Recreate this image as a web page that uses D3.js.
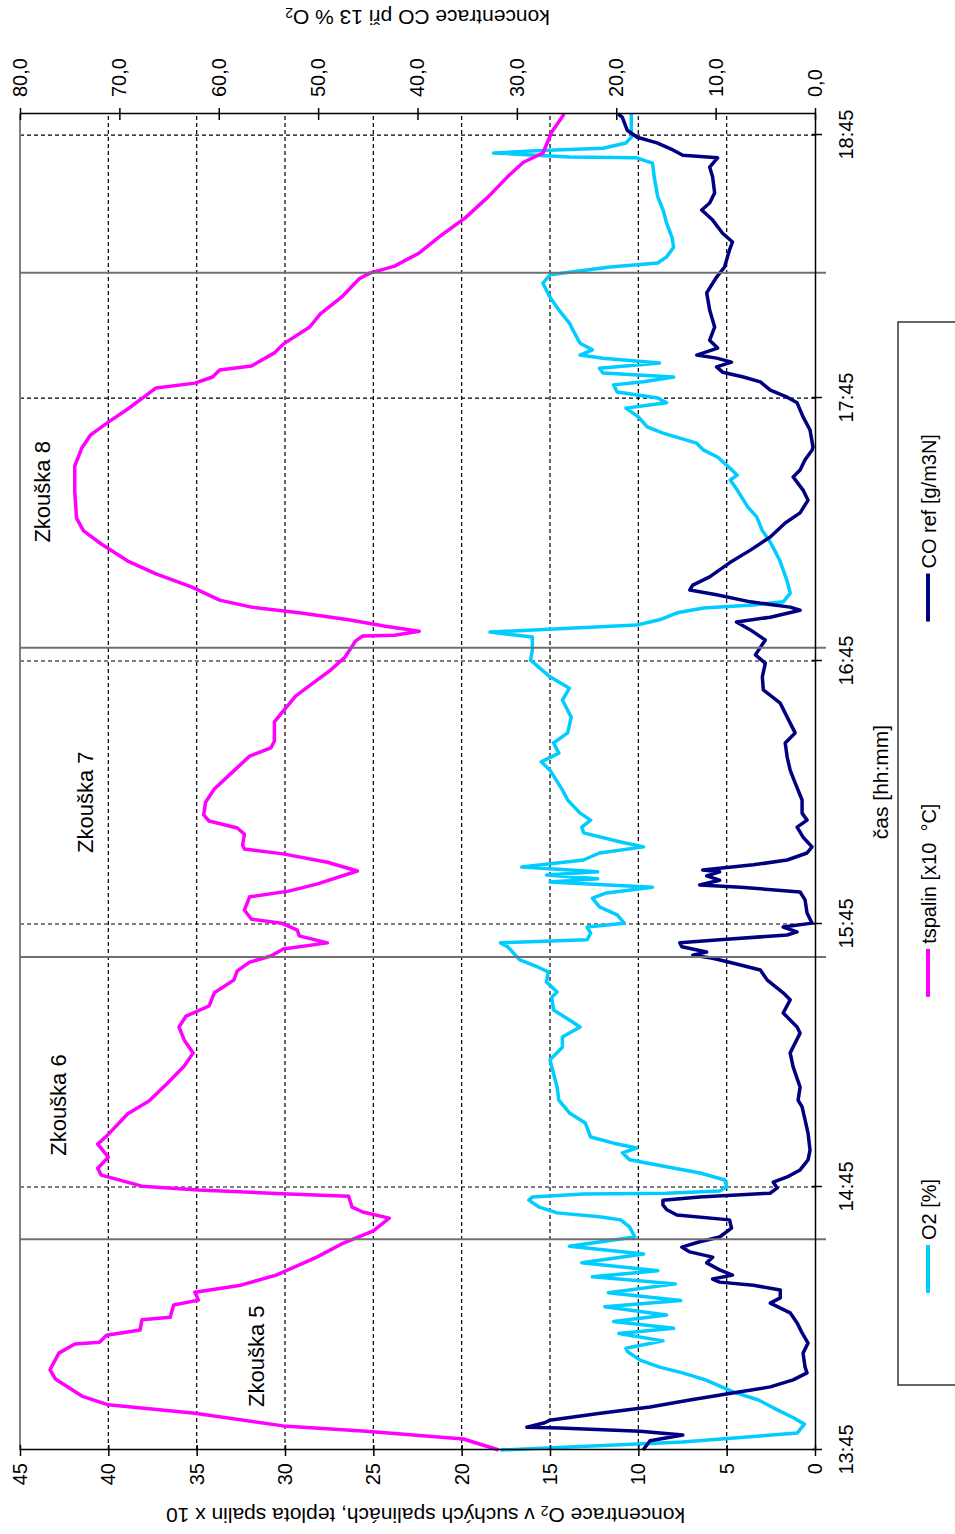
<!DOCTYPE html>
<html>
<head>
<meta charset="utf-8">
<script src="https://cdn.jsdelivr.net/npm/d3@7/dist/d3.min.js"></script>
<style>
  body { margin: 0; background: #fff; }
  svg text { font-family: "Liberation Sans", Arial, sans-serif; }
</style>
</head>
<body>
<div id="chart"></div>
<script>
// time is minutes after 13:45
const o2 = [[0,17.8],[1.8,7.5],[3.2,3.1],[3.9,1.0],[5.9,0.6],[7.3,1.2],[9.1,2.1],[11.4,3.2],[13.2,4.6],[16.0,6.2],[17.6,7.5],[18.9,8.8],[20.5,9.9],[22.4,10.6],[23.2,10.7],[24.9,8.6],[26.6,11.1],[27.8,8.0],[29.3,11.4],[30.8,8.4],[32.7,11.9],[34.1,7.6],[35.9,11.7],[37.9,7.9],[39.5,12.6],[40.9,8.9],[42.7,13.2],[44.7,9.7],[46.5,13.9],[48.6,10.2],[50.9,10.5],[52.5,11.0],[53.2,12.2],[54.1,14.6],[55.4,15.6],[57.0,16.2],[57.7,16.0],[58.4,13.1],[58.6,8.4],[59.1,5.4],[60.0,5.0],[61.6,5.1],[63.2,6.5],[64.6,8.4],[66.2,10.5],[67.8,10.9],[68.9,10.1],[70.0,11.4],[71.4,12.7],[74.6,13.0],[76.9,13.9],[79.8,14.5],[82.8,14.6],[89.0,15.0],[91.9,14.3],[94.2,14.3],[96.5,13.3],[98.1,13.9],[100.4,14.8],[103.3,14.9],[104.5,14.6],[106.8,15.2],[109.1,15.1],[110.2,15.7],[111.8,16.7],[114.8,17.4],[115.7,17.8],[116.4,12.9],[117.9,12.7],[119.3,12.9],[120.2,10.8],[122.1,11.2],[123.9,12.2],[125.9,12.6],[127.1,11.8],[128.4,9.2],[129.6,15.0],[130.3,12.3],[131.2,15.2],[131.9,12.3],[133.0,16.6],[134.6,13.1],[136.2,12.2],[137.6,9.7],[138.7,11.0],[140.8,13.1],[142.1,13.2],[143.7,12.7],[145.3,13.3],[148.3,14.0],[150.6,14.3],[155.1,15.0],[157.0,15.5],[159.0,14.5],[161.3,14.8],[163.6,14.0],[167.2,13.8],[171.1,14.3],[173.8,13.9],[176.4,15.0],[180.2,16.1],[182.5,16.0],[185.5,16.0],[186.6,18.4],[187.5,13.9],[188.2,10.1],[189.4,8.8],[191.0,7.8],[192.1,6.3],[192.8,3.5],[193.5,1.8],[195.5,1.4],[198.5,1.6],[203.0,2.0],[206.9,2.5],[209.9,3.0],[212.9,3.3],[215.1,3.8],[219.0,4.4],[221.3,4.8],[222.4,4.4],[224.3,4.9],[226.5,5.5],[228.1,6.3],[229.7,6.7],[232.0,8.6],[233.4,9.5],[235.7,10.0],[237.7,10.7],[238.9,8.4],[240.0,8.9],[241.4,11.2],[243.0,11.4],[243.7,9.7],[244.8,8.0],[245.7,12.0],[246.8,12.2],[248.0,8.8],[249.1,12.0],[249.8,13.3],[251.0,12.6],[252.5,13.3],[255.5,13.7],[257.1,13.9],[260.1,14.5],[263.0,15.0],[266.2,15.4],[268.1,15.0],[268.7,13.9],[269.9,11.6],[270.8,8.9],[272.2,8.4],[274.4,8.0],[276.7,8.1],[279.9,8.4],[282.9,8.6],[285.9,8.9],[290.4,9.1],[293.6,9.2],[294.8,10.1],[295.0,13.9],[295.9,18.2],[296.4,15.8],[297.0,12.0],[298.2,10.7],[299.5,10.4],[304.8,10.4]];

const tspalin = [[0,17.9],[2.5,19.9],[4.3,25.4],[5.5,30.1],[8.4,35.1],[10.3,40.0],[12.3,41.5],[16.2,43.0],[18.3,43.3],[22.1,42.8],[24.2,41.9],[24.6,40.5],[26.2,40.1],[27.4,38.2],[29.7,38.1],[30.3,36.5],[33.1,36.3],[34.2,34.9],[36.0,35.1],[37.6,32.5],[39.9,30.5],[44.0,28.2],[47.0,26.8],[50.0,25.0],[52.9,24.1],[54.3,25.6],[55.4,26.2],[57.9,26.4],[58.4,29.8],[59.3,34.9],[60.2,38.1],[62.7,40.4],[64.3,40.6],[66.8,40.0],[69.8,40.6],[71.6,40.1],[76.7,38.9],[79.6,37.7],[83.5,36.7],[87.6,35.7],[90.6,35.2],[93.5,35.7],[96.5,36.0],[99.0,35.6],[101.3,34.3],[104.3,34.0],[107.2,32.9],[109.3,32.7],[111.3,32.0],[112.7,30.8],[114.3,30.1],[115.7,27.6],[117.3,29.2],[118.6,29.3],[120.2,30.2],[121.1,31.9],[123.2,32.3],[126.2,32.0],[127.5,29.8],[129.1,28.2],[132.1,25.9],[134.1,27.6],[136.0,30.1],[137.1,32.3],[138.0,32.4],[140.5,32.3],[141.9,32.7],[143.5,34.3],[144.9,34.6],[147.8,34.5],[150.8,34.0],[154.2,33.1],[158.3,32.0],[160.2,30.8],[161.7,30.6],[166.1,30.6],[168.1,30.2],[172.0,29.4],[175.0,28.4],[178.0,27.4],[180.9,26.6],[184.6,26.0],[185.7,25.6],[185.9,23.8],[186.8,22.4],[188.0,24.4],[189.4,26.4],[191.0,29.2],[192.3,31.9],[193.9,33.7],[196.9,35.3],[199.9,37.3],[202.8,38.9],[206.7,40.4],[209.7,41.4],[212.6,41.8],[218.6,41.9],[224.5,41.9],[228.6,41.5],[231.6,41.0],[234.5,40.0],[237.5,38.9],[240.5,37.9],[242.3,37.3],[243.4,35.1],[244.8,34.1],[246.4,33.7],[247.3,31.9],[250.3,30.6],[252.3,30.1],[256.2,28.6],[259.2,28.0],[263.0,26.8],[267.2,25.8],[268.5,25.2],[270.1,23.8],[273.1,22.4],[277.0,21.2],[281.1,19.8],[285.9,18.5],[290.9,17.3],[293.8,16.5],[295.9,15.4],[300.7,14.9],[304.8,14.2]];

const coRef = [[0,17.3],[2.1,16.6],[3.4,13.3],[4.3,17.6],[5.0,25.7],[5.2,29.0],[6.2,27.2],[6.8,26.7],[8.4,21.6],[9.8,16.6],[11.4,12.6],[13.0,8.3],[14.4,4.5],[16.0,2.2],[17.6,0.8],[18.9,1.0],[22.1,1.2],[24.4,0.7],[26.7,1.3],[29.0,1.8],[31.3,2.5],[33.5,4.5],[34.7,3.5],[36.5,3.5],[37.6,6.2],[38.3,9.6],[39.0,10.3],[39.9,8.3],[41.1,9.6],[42.7,10.9],[44.0,10.3],[45.2,12.6],[46.3,13.4],[47.5,11.6],[48.6,9.6],[50.6,8.4],[52.5,8.6],[53.6,13.9],[54.8,14.9],[55.9,15.3],[57.0,15.3],[57.7,11.6],[58.6,4.5],[59.8,3.8],[61.1,4.2],[62.3,2.8],[63.9,1.5],[66.2,0.7],[68.4,0.5],[72.3,0.7],[75.3,1.0],[78.3,1.3],[79.8,1.7],[82.8,1.5],[87.4,2.2],[90.6,2.5],[95.1,1.5],[96.5,1.8],[99.7,3.2],[102.7,2.5],[104.3,3.2],[107.2,4.8],[109.5,5.5],[111.1,8.3],[112.2,10.3],[112.9,12.3],[113.6,10.9],[114.8,13.4],[115.7,13.6],[116.4,9.6],[117.5,2.8],[118.2,1.8],[119.3,3.2],[120.2,0.3],[122.5,0.8],[125.5,1.0],[127.3,1.5],[128.4,7.5],[128.9,11.6],[130.0,9.6],[131.0,10.9],[131.9,9.6],[132.3,11.3],[133.5,6.2],[134.6,2.8],[136.2,0.8],[137.6,0.3],[139.8,1.2],[142.1,1.8],[143.7,0.8],[145.3,1.3],[148.3,1.3],[152.2,2.0],[155.1,2.5],[158.1,2.8],[161.3,3.0],[163.6,2.0],[167.2,2.8],[170.4,3.5],[173.4,5.2],[176.4,5.3],[179.5,5.0],[181.4,6.0],[184.8,5.0],[187.1,6.5],[188.9,7.9],[190.0,4.5],[191.6,1.5],[192.3,2.5],[193.5,6.5],[195.1,9.9],[196.2,12.6],[197.3,12.3],[199.2,10.6],[202.4,8.6],[205.3,6.5],[208.3,4.5],[211.5,3.0],[213.8,1.5],[216.7,0.7],[219.0,1.2],[222.0,2.2],[223.6,1.5],[225.9,1.0],[228.1,0.3],[228.8,0.2],[232.7,0.5],[235.7,1.2],[238.9,1.8],[240.2,2.8],[241.8,4.5],[243.7,5.5],[244.8,7.2],[245.9,9.3],[247.1,9.9],[248.2,8.4],[249.1,9.9],[249.8,11.9],[251.4,9.8],[253.2,10.6],[256.2,10.1],[260.1,10.6],[264.0,10.9],[267.6,9.9],[269.9,9.1],[273.8,8.6],[275.6,8.3],[277.6,9.3],[280.6,10.3],[282.9,11.4],[284.5,10.6],[286.8,10.1],[290.4,10.3],[292.7,10.6],[294.8,9.8],[295.4,13.3],[296.6,14.3],[298.2,15.9],[299.5,17.9],[301.1,18.9],[304.1,19.4],[304.8,19.8]];

const timeTicks = ["13:45", "14:45", "15:45", "16:45", "17:45", "18:45"];
const o2Ticks = [0, 5, 10, 15, 20, 25, 30, 35, 40, 45];
const coTicks = [0, 10, 20, 30, 40, 50, 60, 70, 80];
const testBreaks = [48.1, 112.5, 183.0, 268.6];   // minutes
const testNames = ["Zkouška 5", "Zkouška 6", "Zkouška 7", "Zkouška 8"];
const testLabelAt = [[21.4, 31.6], [78.7, 42.8], [147.8, 41.3], [218.6, 43.7]]; // [minute, O2 value]
const legendNames = ["O2 [%]", "tspalin [x10  °C]", "CO ref [g/m3N]"];
const colors = ["#00ccff", "#ff00ff", "#000080"];

// chart is laid out as a normal chart and then turned 90° counter-clockwise
const pageW = 955, pageH = 1534;
const plotL = 84, plotR = 1420, plotT = 20, plotB = 815;

const parse = d3.timeParse("%H:%M");
const start = parse("13:45");
const at = m => new Date(start.getTime() + m * 60000);

const x = d3.scaleTime().domain([start, at(304.8)]).range([plotL, plotR]);
const yO2 = d3.scaleLinear().domain([0, 45]).range([plotB, plotT]);
const yCO = d3.scaleLinear().domain([0, 80]).range([plotB, plotT]);

const svg = d3.select('#chart').append('svg')
    .attr('width', pageW)
    .attr('height', pageH);

const g = svg.append('g')
    .attr('transform', `translate(0,${pageH}) rotate(-90)`);

// grid
g.append('g').selectAll('line')
    .data(o2Ticks.filter(d => d > 0 && d < 45))
    .join('line')
    .attr('x1', plotL).attr('x2', plotR)
    .attr('y1', d => yO2(d)).attr('y2', d => yO2(d))
    .attr('stroke', '#000').attr('stroke-width', 1.2)
    .attr('stroke-dasharray', '4,3');

g.append('g').selectAll('line')
    .data(timeTicks.slice(1).map(parse))
    .join('line')
    .attr('x1', d => x(d)).attr('x2', d => x(d))
    .attr('y1', plotT).attr('y2', plotB)
    .attr('stroke', '#000').attr('stroke-width', 1.2)
    .attr('stroke-dasharray', '4,3');

g.append('line')
    .attr('x1', plotL).attr('x2', plotR)
    .attr('y1', plotT).attr('y2', plotT)
    .attr('stroke', '#808080').attr('stroke-width', 2);

// series
const lineO2 = d3.line().x(d => x(at(d[0]))).y(d => yO2(d[1]));
const lineCO = d3.line().x(d => x(at(d[0]))).y(d => yCO(d[1]));

[[o2, lineO2], [tspalin, lineO2], [coRef, lineCO]].forEach(([data, gen], i) => {
    g.append('path')
        .datum(data)
        .attr('fill', 'none')
        .attr('stroke', colors[i])
        .attr('stroke-width', 3.5)
        .attr('stroke-linejoin', 'round')
        .attr('d', gen);
});

// test boundaries
g.append('g').selectAll('line')
    .data(testBreaks)
    .join('line')
    .attr('x1', d => x(at(d))).attr('x2', d => x(at(d)))
    .attr('y1', plotT).attr('y2', plotB + 11)
    .attr('stroke', '#707070').attr('stroke-width', 2);

// axes
const styleAxis = (sel) => {
    sel.attr('font-size', 20).attr('font-family', '"Liberation Sans", Arial, sans-serif');
    sel.select('.domain').attr('stroke', '#000').attr('stroke-width', 1.5);
    sel.selectAll('.tick line').attr('stroke', '#000').attr('stroke-width', 1.5);
    sel.selectAll('.tick text').attr('fill', '#000');
};

const axO2 = g.append('g')
    .attr('transform', `translate(${plotL},0)`)
    .call(d3.axisLeft(yO2).tickValues(o2Ticks).tickSize(6).tickSizeOuter(0).tickPadding(7))
    .call(styleAxis);
axO2.selectAll('.tick line').attr('x1', 5);

const axCO = g.append('g')
    .attr('transform', `translate(${plotR},0)`)
    .call(d3.axisRight(yCO).tickValues(coTicks).tickSize(6).tickSizeOuter(0).tickPadding(11)
        .tickFormat(d => d.toFixed(1).replace('.', ',')))
    .call(styleAxis);
axCO.selectAll('.tick line').attr('x1', -6);

const axT = g.append('g')
    .attr('transform', `translate(0,${plotB})`)
    .call(d3.axisBottom(x).tickValues(timeTicks.map(parse)).tickSize(7).tickSizeOuter(0).tickPadding(17)
        .tickFormat(d3.timeFormat('%H:%M')))
    .call(styleAxis);
axT.selectAll('.tick line').attr('y1', -3);

// axis titles
const t1 = g.append('text')
    .attr('transform', `translate(18,${(plotT + plotB) / 2 + 8}) rotate(-90)`)
    .attr('text-anchor', 'middle')
    .attr('dominant-baseline', 'central')
    .attr('font-size', 21);
t1.append('tspan').text('koncentrace O');
t1.append('tspan').attr('font-size', 14).attr('dy', 5).text('2');
t1.append('tspan').attr('dy', -5).text(' v suchých spalinách, teplota spalin x 10');

const t2 = g.append('text')
    .attr('transform', `translate(1516,${(plotT + plotB) / 2}) rotate(-90)`)
    .attr('text-anchor', 'middle')
    .attr('dominant-baseline', 'central')
    .attr('font-size', 21);
t2.append('tspan').text('koncentrace CO při 13 % O');
t2.append('tspan').attr('font-size', 14).attr('dy', 5).text('2');

g.append('text')
    .attr('x', (plotL + plotR) / 2)
    .attr('y', 880)
    .attr('text-anchor', 'middle')
    .attr('dominant-baseline', 'central')
    .attr('font-size', 21)
    .text('čas [hh:mm]');

// test names
g.append('g').selectAll('text')
    .data(testNames)
    .join('text')
    .attr('x', (d, i) => x(at(testLabelAt[i][0])))
    .attr('y', (d, i) => yO2(testLabelAt[i][1]))
    .attr('text-anchor', 'middle')
    .attr('dominant-baseline', 'central')
    .attr('font-size', 22)
    .text(d => d);

// legend
const legend = g.append('g');
legend.append('rect')
    .attr('x', 149).attr('y', 898)
    .attr('width', 1063).attr('height', 120)
    .attr('fill', '#fff')
    .attr('stroke', '#333').attr('stroke-width', 1.5);

let lx = 241;
legendNames.forEach((name, i) => {
    legend.append('line')
        .attr('x1', lx).attr('x2', lx + 48)
        .attr('y1', 928).attr('y2', 928)
        .attr('stroke', colors[i]).attr('stroke-width', 4);
    const txt = legend.append('text')
        .attr('x', lx + 53).attr('y', 929)
        .attr('dominant-baseline', 'central')
        .attr('font-size', 20)
        .style('white-space', 'pre')
        .text(name);
    lx += 53 + txt.node().getComputedTextLength() + 182;
});
</script>
</body>
</html>
